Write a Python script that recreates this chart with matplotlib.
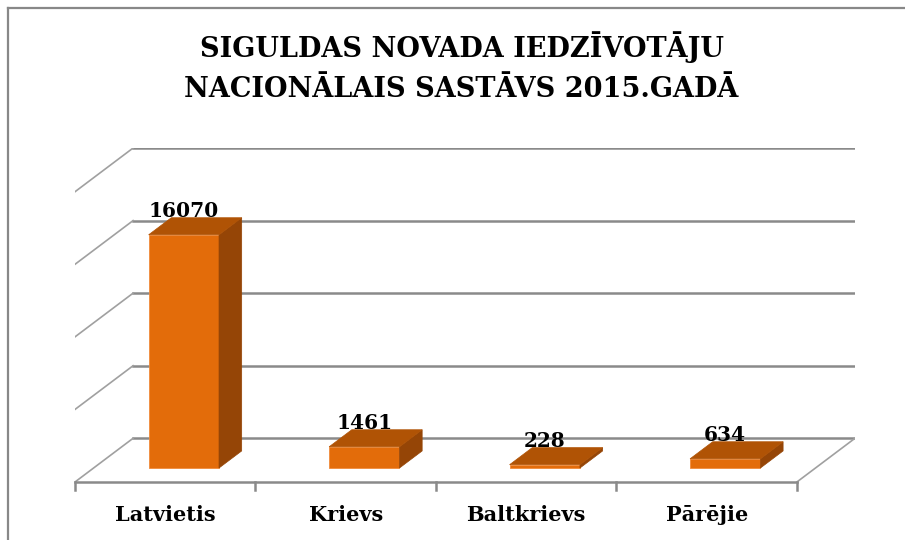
import matplotlib.pyplot as plt
from matplotlib.patches import Polygon
from matplotlib.lines import Line2D

categories = ['Latvietis', 'Krievs', 'Baltkrievs', 'Pārējie']
values = [16070, 1461, 228, 634]
grid_ticks = [0, 5000, 10000, 15000, 20000]
title = 'SIGULDAS NOVADA IEDZĪVOTĀJU\nNACIONĀLAIS SASTĀVS 2015.GADĀ'

front_col = '#E36C0A'
top_col = '#B05305'
side_col = '#954506'
grid_col = '#8A8A8A'

# pseudo 3d: full depth shift in data units
depth_x = 0.322
depth_y = 3014
bar_d0 = 0.32   # bar front depth (fraction)
bar_d1 = 0.71   # bar back depth
bar_w = 0.39

fig = plt.figure(figsize=(9.05, 5.4), dpi=100)
ax = fig.add_axes([75 / 905, 58 / 540, 780 / 905, 334 / 540])
n = len(categories)
ax.set_xlim(0, n + depth_x)
ax.set_ylim(0, grid_ticks[-1] + depth_y)
ax.axis('off')

# back wall gridlines and left wall diagonals
for v in grid_ticks:
    ax.plot([depth_x, n + depth_x], [v + depth_y, v + depth_y], color=grid_col, lw=1.8, zorder=1)
    ax.plot([0, depth_x], [v, v + depth_y], color='#A0A0A0', lw=1.2, zorder=1)

# floor front edge, right edge, ticks
ax.plot([0, n], [0, 0], color=grid_col, lw=1.8, zorder=1, clip_on=False)
ax.plot([n, n + depth_x], [0, depth_y], color='#A0A0A0', lw=1.2, zorder=1)
for i in range(n + 1):
    ax.plot([i, i], [0, -550], color=grid_col, lw=1.8, clip_on=False, zorder=1)

# bars
ox0, oy0 = bar_d0 * depth_x, bar_d0 * depth_y
ox1, oy1 = bar_d1 * depth_x, bar_d1 * depth_y
centers = [i + 0.5 for i in range(n)]
ax.bar([c + ox0 for c in centers], values, width=bar_w, bottom=oy0,
       color=front_col, edgecolor='#F08A3A', linewidth=0.6, zorder=3)
for c, v in zip(centers, values):
    xl = c + ox0 - bar_w / 2
    xr = c + ox0 + bar_w / 2
    dx, dy = ox1 - ox0, oy1 - oy0
    top = Polygon([(xl, v + oy0), (xr, v + oy0), (xr + dx, v + oy0 + dy), (xl + dx, v + oy0 + dy)],
                  closed=True, facecolor=top_col, edgecolor=top_col, lw=0.5, zorder=3)
    side = Polygon([(xr, oy0), (xr, v + oy0), (xr + dx, v + oy0 + dy), (xr + dx, oy0 + dy)],
                   closed=True, facecolor=side_col, edgecolor=side_col, lw=0.5, zorder=3)
    ax.add_patch(side)
    ax.add_patch(top)
    ax.text(c + ox0, v + oy1 - 250, str(v), ha='center', va='bottom',
            family='DejaVu Serif', fontweight='bold', fontsize=14.5, zorder=4)

for c, name in zip(centers, categories):
    ax.text(c, -2250, name, ha='center', va='center', family='DejaVu Serif',
            fontweight='bold', fontsize=15)

fig.text(0.51, 1 - 67 / 540, title, ha='center', va='center', family='DejaVu Serif',
         fontweight='bold', fontsize=19.5, linespacing=1.6)

# frame only on top and left, as in the source image
fig.lines.append(Line2D([8 / 905, 8 / 905], [0, 1 - 8 / 540], transform=fig.transFigure,
                        color='#888888', lw=1.6))
fig.lines.append(Line2D([8 / 905, 1], [1 - 8 / 540, 1 - 8 / 540], transform=fig.transFigure,
                        color='#888888', lw=1.6))

fig.savefig('out.png', dpi=100)
